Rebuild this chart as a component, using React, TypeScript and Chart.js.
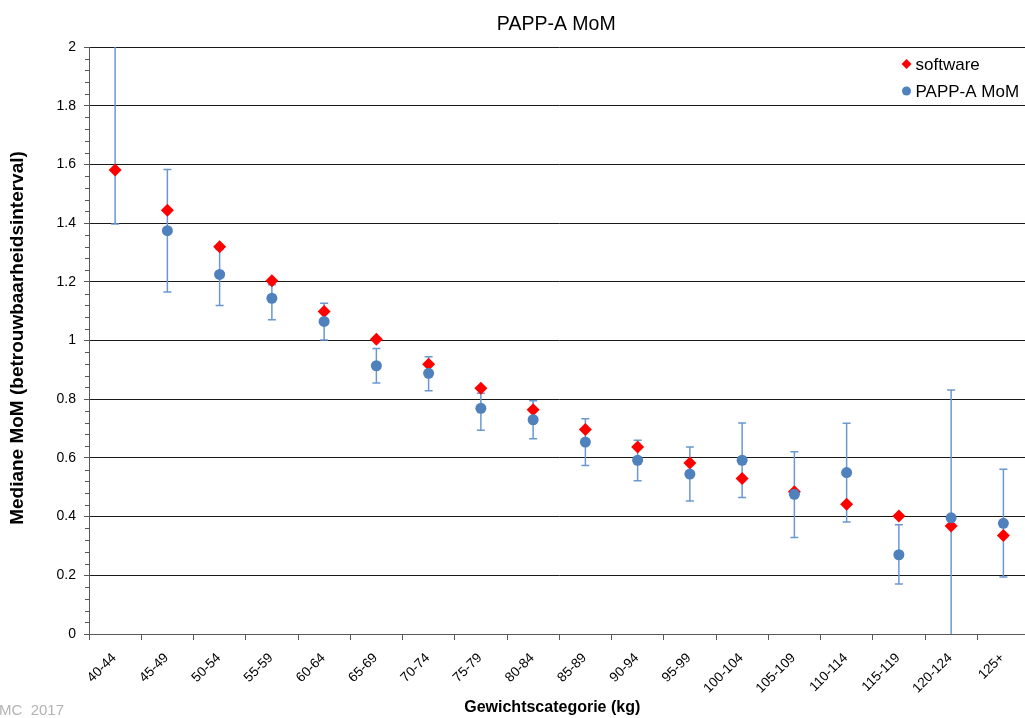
import React, { useEffect, useRef } from "react";
import { Chart, registerables } from "chart.js";

Chart.register(...registerables);

// Weight classes (kg)
const categories = [
  "40-44", "45-49", "50-54", "55-59", "60-64", "65-69", "70-74", "75-79", "80-84",
  "85-89", "90-94", "95-99", "100-104", "105-109", "110-114", "115-119", "120-124", "125+",
];

// Median MoM used by the software
const softwareValues = [
  1.581, 1.444, 1.319, 1.204, 1.099, 1.004, 0.919, 0.837, 0.764,
  0.697, 0.637, 0.583, 0.530, 0.485, 0.442, 0.402, 0.368, 0.336,
];

// Observed median PAPP-A MoM per weight class
const papaValues: (number | null)[] = [
  null, 1.374, 1.225, 1.144, 1.065, 0.914, 0.888, 0.769, 0.730,
  0.654, 0.592, 0.545, 0.592, 0.476, 0.550, 0.270, 0.396, 0.377,
];

// Confidence interval bounds of the observed median
const ciLow = [
  1.397, 1.165, 1.119, 1.071, 1.002, 0.855, 0.829, 0.694, 0.665,
  0.574, 0.522, 0.453, 0.465, 0.329, 0.382, 0.170, -0.05, 0.194,
];
const ciHigh = [
  2.05, 1.583, 1.31, 1.19, 1.127, 0.973, 0.945, 0.82, 0.795,
  0.733, 0.660, 0.637, 0.719, 0.621, 0.718, 0.372, 0.831, 0.561,
];

const yMin = 0;
const yMax = 2;
const yStep = 0.2;
const yMinorStep = 0.04;

const chartTitle = "PAPP-A MoM";
const xTitle = "Gewichtscategorie (kg)";
const yTitle = "Mediane MoM (betrouwbaarheidsinterval)";
const footerText = "MC  2017";

const FONT = "'Liberation Sans', Arial, Helvetica, sans-serif";
const RED = "#ff0000";
const BLUE = "#4f81bd";
const ERR = "#6b98cf";
const AXIS = "#595959";

const errorBarPlugin = {
  id: "errorBars",
  beforeDatasetsDraw(chart: any) {
    const { ctx, chartArea, scales } = chart;
    const xs = scales.x;
    const ys = scales.y;
    ctx.save();
    ctx.beginPath();
    ctx.rect(chartArea.left, chartArea.top, chartArea.right - chartArea.left, chartArea.bottom - chartArea.top);
    ctx.clip();
    ctx.strokeStyle = ERR;
    ctx.lineWidth = 1.5;
    const cap = 4;
    categories.forEach((_, i) => {
      const x = xs.getPixelForValue(i);
      const yLo = ys.getPixelForValue(ciLow[i]);
      const yHi = ys.getPixelForValue(ciHigh[i]);
      ctx.beginPath();
      ctx.moveTo(x, yLo);
      ctx.lineTo(x, yHi);
      ctx.moveTo(x - cap, yLo);
      ctx.lineTo(x + cap, yLo);
      ctx.moveTo(x - cap, yHi);
      ctx.lineTo(x + cap, yHi);
      ctx.stroke();
    });
    ctx.restore();
  },
};

const decorPlugin = {
  id: "decor",
  afterDraw(chart: any) {
    const { ctx, chartArea, scales } = chart;
    const ys = scales.y;
    ctx.save();

    // minor tick marks on the value axis
    ctx.strokeStyle = AXIS;
    ctx.lineWidth = 1;
    const n = Math.round((yMax - yMin) / yMinorStep);
    const per = Math.round(yStep / yMinorStep);
    for (let k = 0; k <= n; k++) {
      if (k % per === 0) continue;
      const y = Math.round(ys.getPixelForValue(yMin + k * yMinorStep)) + 0.5;
      ctx.beginPath();
      ctx.moveTo(chartArea.left - 4, y);
      ctx.lineTo(chartArea.left, y);
      ctx.stroke();
    }

    const cx = (chartArea.left + chartArea.right) / 2;
    ctx.fillStyle = "#000";
    ctx.textBaseline = "middle";

    // chart title
    ctx.textAlign = "center";
    ctx.font = `19.5px ${FONT}`;
    ctx.fillText(chartTitle, cx - 3, 25);

    // axis titles
    ctx.font = `bold 16px ${FONT}`;
    ctx.fillText(xTitle, cx - 7, 708);
    ctx.save();
    ctx.translate(18, 338);
    ctx.rotate(-Math.PI / 2);
    ctx.font = `bold 19px ${FONT}`;
    ctx.fillText(yTitle, 0, 0);
    ctx.restore();

    // legend
    const lx = chartArea.right - 123;
    const items = [
      { label: chart.data.datasets[1].label, color: RED, diamond: true, y: 64 },
      { label: chart.data.datasets[0].label, color: BLUE, diamond: false, y: 91 },
    ];
    ctx.font = `17px ${FONT}`;
    ctx.textAlign = "left";
    items.forEach((it) => {
      ctx.fillStyle = it.color;
      ctx.beginPath();
      if (it.diamond) {
        const r = 5;
        ctx.moveTo(lx - r, it.y);
        ctx.lineTo(lx, it.y - r);
        ctx.lineTo(lx + r, it.y);
        ctx.lineTo(lx, it.y + r);
        ctx.closePath();
      } else {
        ctx.arc(lx, it.y, 4.5, 0, Math.PI * 2);
      }
      ctx.fill();
      ctx.fillStyle = "#000";
      ctx.fillText(it.label, lx + 9, it.y + 1);
    });

    // footer
    ctx.fillStyle = "#b3b3b3";
    ctx.font = `15px ${FONT}`;
    ctx.textAlign = "left";
    ctx.fillText(footerText, -1, 711);

    ctx.restore();
  },
};

export default function App() {
  const canvasRef = useRef<HTMLCanvasElement | null>(null);

  useEffect(() => {
    const canvas = canvasRef.current;
    if (!canvas) return;
    const chart = new Chart(canvas, {
      type: "line",
      data: {
        labels: categories,
        datasets: [
          {
            label: "PAPP-A MoM",
            data: papaValues,
            showLine: false,
            pointStyle: "circle",
            pointRadius: 5.5,
            pointBackgroundColor: BLUE,
            pointBorderWidth: 0,
            order: 0,
          },
          {
            label: "software",
            data: softwareValues,
            showLine: false,
            pointStyle: "rectRot",
            pointRadius: 6.5,
            pointBackgroundColor: RED,
            pointBorderWidth: 0,
            order: 1,
          },
        ],
      },
      options: {
        responsive: false,
        animation: false,
        events: [],
        layout: { padding: { top: 47, left: 0, right: 0, bottom: 0 } },
        plugins: {
          legend: { display: false },
          title: { display: false },
          tooltip: { enabled: false },
        },
        scales: {
          x: {
            type: "category",
            offset: true,
            grid: {
              offset: true,
              drawOnChartArea: false,
              drawTicks: true,
              tickLength: 6,
              color: AXIS,
            },
            border: { display: true, color: AXIS, width: 1 },
            ticks: {
              autoSkip: false,
              minRotation: 45,
              maxRotation: 45,
              padding: 10,
              labelOffset: -1,
              color: "#000",
              font: { family: FONT, size: 13.5 },
            },
            afterFit: (s: any) => {
              s.height = 84;
              s.paddingLeft = 0;
              s.paddingRight = 0;
            },
          },
          y: {
            min: yMin,
            max: yMax,
            ticks: {
              stepSize: yStep,
              padding: 8,
              color: "#000",
              font: { family: FONT, size: 14 },
              callback: (v: any) => String(Math.round(Number(v) * 10) / 10),
            },
            grid: {
              color: "#1a1a1a",
              lineWidth: 1,
              tickColor: AXIS,
              tickLength: 5,
              drawTicks: true,
            },
            border: { display: true, color: AXIS, width: 1 },
            afterFit: (s: any) => {
              s.width = 89;
              s.paddingTop = 0;
              s.paddingBottom = 0;
            },
          },
        },
      } as any,
      plugins: [errorBarPlugin, decorPlugin],
    });
    return () => chart.destroy();
  }, []);

  return (
    <div
      style={{
        position: "fixed",
        left: 0,
        top: 0,
        width: 1025,
        height: 718,
        overflow: "hidden",
        background: "#fff",
      }}
    >
      <canvas ref={canvasRef} width={1036} height={718} style={{ display: "block" }} />
    </div>
  );
}
